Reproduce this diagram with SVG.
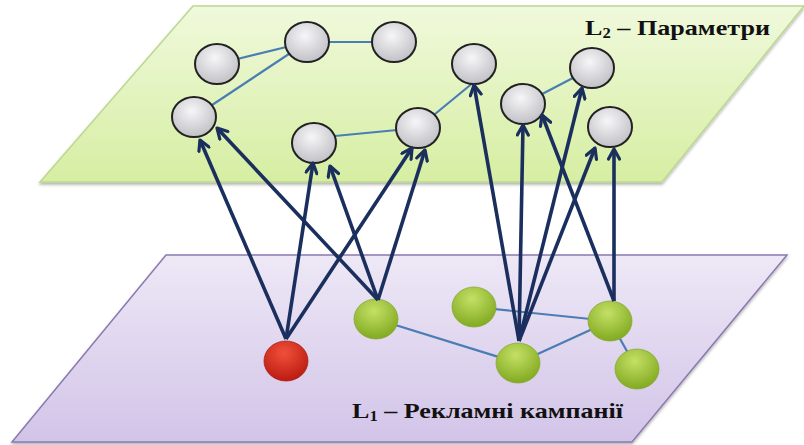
<svg xmlns="http://www.w3.org/2000/svg" width="804" height="445" viewBox="0 0 804 445">
<defs>
  <linearGradient id="gTop" x1="0" y1="0" x2="0" y2="1">
    <stop offset="0" stop-color="#f0f9dc"/>
    <stop offset="1" stop-color="#d6eea2"/>
  </linearGradient>
  <linearGradient id="gBot" x1="0" y1="0" x2="0" y2="1">
    <stop offset="0" stop-color="#eee8f6"/>
    <stop offset="1" stop-color="#d2c4e8"/>
  </linearGradient>
  <radialGradient id="gGray" cx="0.45" cy="0.35" r="0.7">
    <stop offset="0" stop-color="#f6f6f8"/>
    <stop offset="1" stop-color="#bdbdc2"/>
  </radialGradient>
  <radialGradient id="gGreen" cx="0.45" cy="0.3" r="0.75">
    <stop offset="0" stop-color="#c4e066"/>
    <stop offset="1" stop-color="#7da61c"/>
  </radialGradient>
  <radialGradient id="gRed" cx="0.45" cy="0.3" r="0.75">
    <stop offset="0" stop-color="#f0503a"/>
    <stop offset="1" stop-color="#b8180e"/>
  </radialGradient>
  <marker id="arr" viewBox="0 0 14 14" refX="12" refY="7" markerWidth="14" markerHeight="14" markerUnits="userSpaceOnUse" orient="auto">
    <path d="M2,1.5 L12,7 L2,12.5" fill="none" stroke="#1a2f5e" stroke-width="3.2" stroke-linecap="round" stroke-linejoin="round"/>
  </marker>
  <filter id="sh" x="-5%" y="-5%" width="110%" height="115%">
    <feDropShadow dx="0" dy="2" stdDeviation="1.5" flood-color="#000" flood-opacity="0.3"/>
  </filter>
</defs>
<style>
  .gray { fill: url(#gGray); stroke: #222; stroke-width: 2; }
  .green { fill: url(#gGreen); stroke: #8aa83a; stroke-width: 0.8; }
  .red { fill: url(#gRed); stroke: #a8221a; stroke-width: 0.8; }
  .edge { stroke: #4a7db4; stroke-width: 2.2; fill: none; }
  .arrow { stroke: #1a2f5e; stroke-width: 3.6; fill: none; marker-end: url(#arr); }
  .lbl { font-family: "Liberation Serif", "Times New Roman", serif; font-weight: bold; font-size: 22px; fill: #111; }
</style>

<g id="plane-L1">
  <polygon points="166,255 787,255 632,442 12,442" fill="url(#gBot)" stroke="#8a7ab0" stroke-width="1.5" filter="url(#sh)"/>
  <text class="lbl" x="352" y="418" textLength="271" lengthAdjust="spacingAndGlyphs">L<tspan font-size="14" dy="3">1</tspan><tspan dy="-3"> – Рекламні кампанії</tspan></text>
</g>

<g id="plane-L2">
  <polygon points="193,6 804,6 662,182 40,182" fill="url(#gTop)" stroke="#bcd890" stroke-width="1.5" filter="url(#sh)"/>
  <text class="lbl" x="585" y="35" textLength="185" lengthAdjust="spacingAndGlyphs">L<tspan font-size="14" dy="3">2</tspan><tspan dy="-3"> – Параметри</tspan></text>
</g>

<g id="edges">
  <line class="edge" x1="217" y1="64" x2="307" y2="42"/>
  <line class="edge" x1="307" y1="42" x2="394" y2="42"/>
  <line class="edge" x1="307" y1="42" x2="194" y2="117"/>
  <line class="edge" x1="314" y1="138" x2="418" y2="128"/>
  <line class="edge" x1="418" y1="128" x2="474" y2="82"/>
  <line class="edge" x1="523" y1="104" x2="592" y2="68"/>
  <line class="edge" x1="376" y1="319" x2="518" y2="363"/>
  <line class="edge" x1="474" y1="307" x2="610" y2="321"/>
  <line class="edge" x1="518" y1="363" x2="610" y2="321"/>
  <line class="edge" x1="610" y1="321" x2="637" y2="369"/>
</g>

<g id="n-top-a"><ellipse class="gray" cx="217" cy="64" rx="22" ry="20"/></g>
<g id="n-top-b"><ellipse class="gray" cx="307" cy="42" rx="22" ry="20"/></g>
<g id="n-top-c"><ellipse class="gray" cx="394" cy="42" rx="22" ry="20"/></g>
<g id="n-top-d"><ellipse class="gray" cx="194" cy="117" rx="22" ry="20"/></g>
<g id="n-top-e"><ellipse class="gray" cx="314" cy="143" rx="22" ry="20"/></g>
<g id="n-top-f"><ellipse class="gray" cx="418" cy="128" rx="22" ry="20"/></g>
<g id="n-top-g"><ellipse class="gray" cx="474" cy="64" rx="22" ry="20"/></g>
<g id="n-top-h"><ellipse class="gray" cx="523" cy="104" rx="22" ry="20"/></g>
<g id="n-top-i"><ellipse class="gray" cx="592" cy="68" rx="22" ry="20"/></g>
<g id="n-top-j"><ellipse class="gray" cx="610" cy="127" rx="22" ry="20"/></g>

<g id="n-red"><ellipse class="red" cx="286" cy="361" rx="22" ry="20"/></g>
<g id="n-green-1"><ellipse class="green" cx="376" cy="319" rx="22" ry="20"/></g>
<g id="n-green-2"><ellipse class="green" cx="474" cy="307" rx="22" ry="20"/></g>
<g id="n-green-3"><ellipse class="green" cx="518" cy="363" rx="22" ry="20"/></g>
<g id="n-green-4"><ellipse class="green" cx="610" cy="321" rx="22" ry="20"/></g>
<g id="n-green-5"><ellipse class="green" cx="637" cy="369" rx="22" ry="20"/></g>

<g id="arrows">
  <line class="arrow" x1="286" y1="339" x2="200" y2="140"/>
  <line class="arrow" x1="286" y1="339" x2="313" y2="163"/>
  <line class="arrow" x1="286" y1="339" x2="412" y2="148"/>
  <line class="arrow" x1="378" y1="300" x2="217" y2="128"/>
  <line class="arrow" x1="378" y1="300" x2="330" y2="166"/>
  <line class="arrow" x1="378" y1="300" x2="425" y2="150"/>
  <line class="arrow" x1="519" y1="341" x2="474" y2="85"/>
  <line class="arrow" x1="519" y1="341" x2="523" y2="125"/>
  <line class="arrow" x1="519" y1="341" x2="582" y2="88"/>
  <line class="arrow" x1="519" y1="341" x2="595" y2="148"/>
  <line class="arrow" x1="614" y1="301" x2="542" y2="115"/>
  <line class="arrow" x1="614" y1="301" x2="614" y2="149"/>
</g>
</svg>
